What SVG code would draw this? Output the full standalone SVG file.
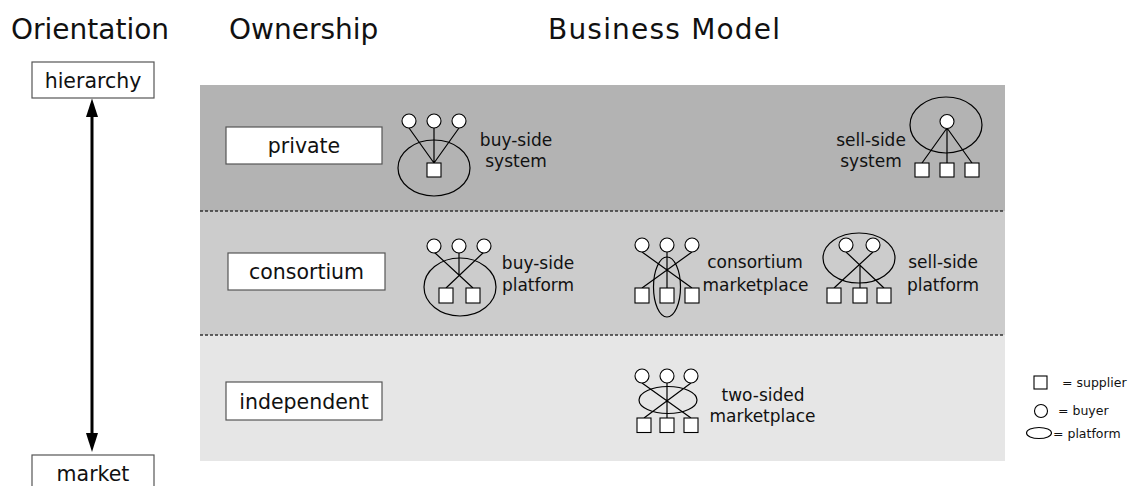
<svg xmlns="http://www.w3.org/2000/svg" width="1134" height="486" viewBox="0 0 1134 486">
<style>
text{font-family:"DejaVu Sans","Liberation Sans",sans-serif;fill:#111}
.title{font-size:28px}
.lbl{font-size:20.5px;text-anchor:middle}
.cap{font-size:17px;text-anchor:middle}
.leg{font-size:12.5px}
.box{fill:#fff;stroke:#555;stroke-width:1.2}
.sh{fill:#fff;stroke:#000;stroke-width:1.1}
.ln{stroke:#000;stroke-width:1.2;fill:none}
.dot{stroke:#333;stroke-width:1.5;stroke-dasharray:3 2}
</style>
<rect width="1134" height="486" fill="#fff"/>
<text class="title" x="11" y="39">Orientation</text>
<text class="title" x="229" y="39">Ownership</text>
<text class="title" x="548" y="39" textLength="232">Business Model</text>

<g id="bands">
<rect x="200" y="85" width="805" height="126" fill="#b3b3b3"/>
<rect x="200" y="211" width="805" height="124" fill="#cccccc"/>
<rect x="200" y="335" width="805" height="126" fill="#e6e6e6"/>
<line class="dot" x1="200" y1="211" x2="1005" y2="211"/>
<line class="dot" x1="200" y1="335" x2="1005" y2="335"/>
</g>

<g id="connectors">
<line x1="92" y1="116" x2="92" y2="436" stroke="#000" stroke-width="3"/>
<path d="M86,117 L92,98.5 L98,117 Z" fill="#000"/>
<path d="M86,433 L92,452 L98,433 Z" fill="#000"/>
</g>

<g id="hierarchy">
<rect class="box" x="32" y="62" width="122" height="36"/>
<text class="lbl" x="93" y="88">hierarchy</text>
</g>
<g id="market">
<rect class="box" x="32" y="455" width="122" height="40"/>
<text class="lbl" x="93" y="481">market</text>
</g>
<g id="private">
<rect class="box" x="226" y="127" width="156" height="37"/>
<text class="lbl" x="304" y="153">private</text>
</g>
<g id="consortium">
<rect class="box" x="228" y="253" width="157" height="37"/>
<text class="lbl" x="306.5" y="279">consortium</text>
</g>
<g id="independent">
<rect class="box" x="226" y="382" width="156" height="38"/>
<text class="lbl" x="304" y="409">independent</text>
</g>

<g id="buy-side-system">
<ellipse class="ln" cx="434" cy="168" rx="36" ry="28"/>
<path class="ln" d="M409,128 L434,163 M434,128 L434,163 M459,128 L434,163"/>
<circle class="sh" cx="409" cy="121" r="7"/>
<circle class="sh" cx="434" cy="121" r="7"/>
<circle class="sh" cx="459" cy="121" r="7"/>
<rect class="sh" x="427" y="163" width="14" height="14"/>
<text class="cap" x="516" y="146">buy-side</text>
<text class="cap" x="516" y="167">system</text>
</g>

<g id="sell-side-system">
<ellipse class="ln" cx="946" cy="125" rx="36" ry="28"/>
<path class="ln" d="M947,128 L922,163 M947,128 L947,163 M947,128 L972,163"/>
<circle class="sh" cx="947" cy="121.5" r="7"/>
<rect class="sh" x="915" y="163" width="14" height="14"/>
<rect class="sh" x="940" y="163" width="14" height="14"/>
<rect class="sh" x="965" y="163" width="14" height="14"/>
<text class="cap" x="871" y="146">sell-side</text>
<text class="cap" x="871" y="167">system</text>
</g>

<g id="buy-side-platform">
<ellipse class="ln" cx="460" cy="287" rx="36" ry="29"/>
<path class="ln" d="M434,252 L473,288 M484,252 L446,288 M459,252 L459,275"/>
<circle class="sh" cx="434" cy="246" r="7"/>
<circle class="sh" cx="459" cy="246" r="7"/>
<circle class="sh" cx="484" cy="246" r="7"/>
<rect class="sh" x="439" y="288" width="14" height="15"/>
<rect class="sh" x="466" y="288" width="14" height="15"/>
<text class="cap" x="538" y="269">buy-side</text>
<text class="cap" x="538" y="291">platform</text>
</g>

<g id="consortium-marketplace">
<path class="ln" d="M642,252 L692,288 M692,252 L642,288 M667,252 L667,288"/>
<ellipse class="ln" cx="667" cy="287" rx="13.5" ry="30"/>
<circle class="sh" cx="642" cy="245" r="7"/>
<circle class="sh" cx="667" cy="245" r="7"/>
<circle class="sh" cx="692" cy="245" r="7"/>
<rect class="sh" x="635" y="288" width="14" height="15"/>
<rect class="sh" x="660" y="288" width="14" height="15"/>
<rect class="sh" x="685" y="288" width="14" height="15"/>
<text class="cap" x="755" y="268">consortium</text>
<text class="cap" x="755.5" y="291">marketplace</text>
</g>

<g id="sell-side-platform">
<ellipse class="ln" cx="859" cy="258" rx="36" ry="25"/>
<path class="ln" d="M846,252 L884,288 M873,252 L834,288 M860,265 L860,288"/>
<circle class="sh" cx="846" cy="245" r="7"/>
<circle class="sh" cx="873" cy="245" r="7"/>
<rect class="sh" x="827" y="288" width="14" height="15"/>
<rect class="sh" x="853" y="288" width="14" height="15"/>
<rect class="sh" x="877" y="288" width="14" height="15"/>
<text class="cap" x="943" y="268">sell-side</text>
<text class="cap" x="943" y="291">platform</text>
</g>

<g id="two-sided-marketplace">
<ellipse class="ln" cx="668" cy="400" rx="29" ry="13.5"/>
<path class="ln" d="M642,383 L691,418 M691,383 L644,418 M667,383 L667,418"/>
<circle class="sh" cx="642" cy="376" r="7"/>
<circle class="sh" cx="667" cy="376" r="7"/>
<circle class="sh" cx="691" cy="376" r="7"/>
<rect class="sh" x="637" y="418" width="14" height="14.5"/>
<rect class="sh" x="660" y="418" width="14" height="14.5"/>
<rect class="sh" x="684" y="418" width="14" height="14.5"/>
<text class="cap" x="763" y="401">two-sided</text>
<text class="cap" x="762.5" y="422">marketplace</text>
</g>

<g id="legend">
<rect class="sh" x="1034" y="376" width="13" height="13"/>
<text class="leg" x="1062" y="387">= supplier</text>
<circle class="sh" cx="1041" cy="411" r="6.5"/>
<text class="leg" x="1058" y="415">= buyer</text>
<ellipse class="sh" cx="1039" cy="433" rx="12.5" ry="5.5"/>
<text class="leg" x="1053" y="438">= platform</text>
</g>
</svg>
